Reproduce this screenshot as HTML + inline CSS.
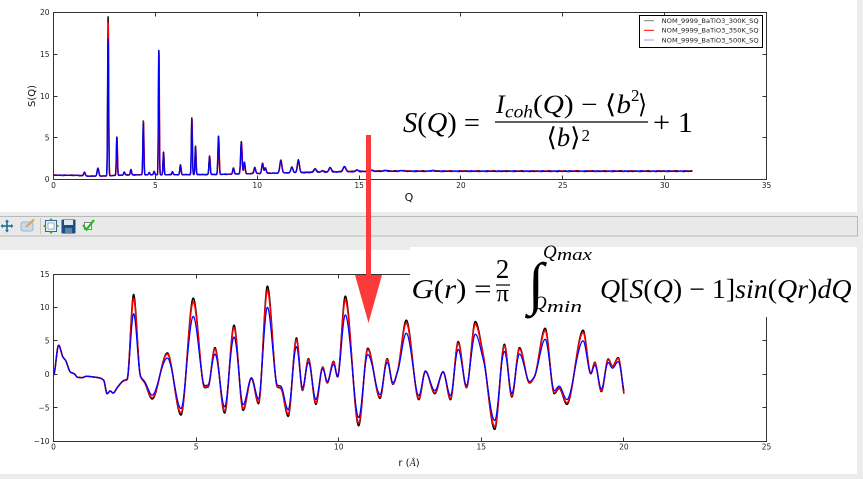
<!DOCTYPE html>
<html><head><meta charset="utf-8">
<style>
html,body{margin:0;padding:0;background:#ececec;}
svg{display:block;}
text{font-family:"DejaVu Sans","Liberation Sans",sans-serif;}
.tk text{font-size:7.5px;fill:#222;}
.m text,text.m{font-family:"Liberation Serif","DejaVu Serif",serif;fill:#000;}
.i{font-style:italic;}
</style></head>
<body>
<svg id="s" width="863" height="479" viewBox="0 0 863 479" xmlns="http://www.w3.org/2000/svg">
<rect width="863" height="479" fill="#ececec"/>
<rect x="0" y="0" width="857" height="212" fill="#fff"/>
<rect x="-1" y="216.5" width="858.5" height="19.5" fill="#e9e9e9" stroke="#b9b9b9"/>
<rect x="0" y="250" width="857" height="224" fill="#fff"/>

<!-- toolbar icons -->
<g>
  <g stroke="#1e6e96" stroke-width="1.6" fill="#1e6e96">
    <line x1="1.5" y1="226" x2="12.5" y2="226"/><line x1="7" y1="220.5" x2="7" y2="231.5"/>
    <polygon points="0.5,226 3,224 3,228" stroke="none"/><polygon points="13.5,226 11,224 11,228" stroke="none"/>
    <polygon points="7,219.5 5,222 9,222" stroke="none"/><polygon points="7,232.5 5,230 9,230" stroke="none"/>
  </g>
  <rect x="21" y="222" width="12" height="9" rx="2" fill="#c9dced" stroke="#9ab6cf"/>
  <line x1="26" y1="227" x2="34" y2="219.5" stroke="#e8a04a" stroke-width="2.2"/>
  <line x1="40.5" y1="218" x2="40.5" y2="234" stroke="#c6c6c6"/>
  <rect x="45.5" y="220.5" width="11" height="11" fill="#e6ecf6" stroke="#3e5f9e"/>
  <rect x="48" y="223" width="6" height="6" fill="#fff" stroke="#6a7fa8" stroke-width="0.6"/>
  <g fill="#2fb02f"><polygon points="51,218 49,220.5 53,220.5"/><polygon points="51,234 49,231.5 53,231.5"/><polygon points="43,226 45.5,224 45.5,228"/><polygon points="59,226 56.5,224 56.5,228"/></g>
  <rect x="61.5" y="219.5" width="14" height="14" rx="1" fill="#1c4f80"/>
  <rect x="64" y="220" width="9" height="5" fill="#dfe7f0"/>
  <rect x="65" y="228" width="7" height="5" fill="#5f84aa"/>
  <rect x="84.5" y="222.5" width="7" height="7" fill="#fff" stroke="#666" stroke-width="0.8"/>
  <polyline points="83,225 86.5,229.5 94,220" fill="none" stroke="#18c018" stroke-width="2.2"/>
</g>

<!-- TOP PLOT -->
<rect x="53.5" y="12.5" width="713" height="167" fill="#fff" stroke="#333" stroke-width="1"/>
<g id="sq"></g>
<path d="M155.5 179.5V175.5M257.5 179.5V175.5M359.5 179.5V175.5M460.5 179.5V175.5M562.5 179.5V175.5M664.5 179.5V175.5
M155.5 12.5V16.5M257.5 12.5V16.5M359.5 12.5V16.5M460.5 12.5V16.5M562.5 12.5V16.5M664.5 12.5V16.5
M53.5 54.5H57.5M53.5 96.5H57.5M53.5 137.5H57.5M766.5 54.5H762.5M766.5 96.5H762.5M766.5 137.5H762.5" stroke="#333" stroke-width="1" fill="none"/>
<g class="tk" text-anchor="middle">
  <text x="53.5" y="188">0</text><text x="155.4" y="188">5</text><text x="257.2" y="188">10</text><text x="359.1" y="188">15</text>
  <text x="460.9" y="188">20</text><text x="562.8" y="188">25</text><text x="664.6" y="188">30</text><text x="766.5" y="188">35</text>
</g>
<g class="tk" text-anchor="end">
  <text x="49.5" y="15">20</text><text x="49.5" y="57">15</text><text x="49.5" y="98.8">10</text><text x="49.5" y="140.5">5</text><text x="49.5" y="182.2">0</text>
</g>
<text x="35" y="96" font-size="10" text-anchor="middle" transform="rotate(-90 35 96)" fill="#111">S(Q)</text>
<text x="409" y="201" font-size="11" text-anchor="middle" fill="#111">Q</text>

<!-- legend -->
<rect x="639.5" y="15.5" width="123" height="32" fill="#fff" stroke="#000" stroke-width="1"/>
<line x1="644" y1="20.7" x2="654" y2="20.7" stroke="#7f7f7f" stroke-width="1"/>
<line x1="644" y1="30.3" x2="654" y2="30.3" stroke="#ff0000" stroke-width="1"/>
<line x1="644" y1="40" x2="654" y2="40" stroke="#9a9aff" stroke-width="1"/>
<g font-size="6" fill="#222">
  <text x="661.7" y="23" textLength="97" lengthAdjust="spacingAndGlyphs">NOM_9999_BaTiO3_300K_SQ</text>
  <text x="661.7" y="32.6" textLength="97" lengthAdjust="spacingAndGlyphs">NOM_9999_BaTiO3_350K_SQ</text>
  <text x="661.7" y="42.3" textLength="97" lengthAdjust="spacingAndGlyphs">NOM_9999_BaTiO3_500K_SQ</text>
</g>

<!-- top equation -->
<g class="m">
  <text style="font-family:'Liberation Serif',serif" x="403" y="132" font-size="28" textLength="77" lengthAdjust="spacingAndGlyphs"><tspan class="i">S</tspan>(<tspan class="i">Q</tspan>) =</text>
  <text style="font-family:'Liberation Serif',serif;font-style:italic" x="496" y="113" font-size="26">I</text>
  <text style="font-family:'Liberation Serif',serif;font-style:italic" x="505" y="117.5" font-size="18" textLength="28" lengthAdjust="spacingAndGlyphs">coh</text>
  <text style="font-family:'Liberation Serif',serif" x="533" y="113" font-size="26" textLength="98" lengthAdjust="spacingAndGlyphs">(<tspan class="i">Q</tspan>) − ⟨<tspan class="i">b</tspan></text>
  <text style="font-family:'Liberation Serif',serif" x="631" y="101" font-size="17">2</text>
  <text style="font-family:'Liberation Serif',serif" x="638" y="113" font-size="26" textLength="9" lengthAdjust="spacingAndGlyphs">⟩</text>
  <text style="font-family:'Liberation Serif',serif" x="546.5" y="146" font-size="26" textLength="34" lengthAdjust="spacingAndGlyphs">⟨<tspan class="i">b</tspan>⟩</text>
  <text style="font-family:'Liberation Serif',serif" x="581.5" y="141" font-size="17">2</text>
  <text style="font-family:'Liberation Serif',serif" x="653" y="132" font-size="28" textLength="40" lengthAdjust="spacingAndGlyphs">+ 1</text>
</g>
<line x1="495" y1="122" x2="648" y2="122" stroke="#000" stroke-width="1.3"/>

<!-- BOTTOM PLOT -->
<rect x="53.5" y="274.5" width="713" height="167" fill="#fff" stroke="#333" stroke-width="1"/>
<g id="gr"></g>
<path d="M196.5 441.5V437.5M338.5 441.5V437.5M481.5 441.5V437.5M623.5 441.5V437.5
M196.5 274.5V278.5M338.5 274.5V278.5M481.5 274.5V278.5M623.5 274.5V278.5
M53.5 307.5H57.5M53.5 340.5H57.5M53.5 374.5H57.5M53.5 407.5H57.5
M766.5 307.5H762.5M766.5 340.5H762.5M766.5 374.5H762.5M766.5 407.5H762.5" stroke="#333" stroke-width="1" fill="none"/>
<g class="tk" text-anchor="middle">
  <text x="53.5" y="449.5">0</text><text x="196.1" y="449.5">5</text><text x="338.7" y="449.5">10</text>
  <text x="481.3" y="449.5">15</text><text x="623.9" y="449.5">20</text><text x="766.5" y="449.5">25</text>
</g>
<g class="tk" text-anchor="end">
  <text x="49.5" y="277.2">15</text><text x="49.5" y="310.2">10</text><text x="49.5" y="343.6">5</text>
  <text x="49.5" y="377">0</text><text x="49.5" y="410.4">−5</text><text x="49.5" y="444.2">−10</text>
</g>
<text x="409" y="466" font-size="10" text-anchor="middle" fill="#111">r (<tspan font-family="Liberation Serif, serif" font-style="italic">Å</tspan>)</text>

<!-- bottom equation box -->
<rect x="410" y="247" width="447" height="70" fill="#fff"/>
<g class="m">
  <text style="font-family:'Liberation Serif',serif" x="411.5" y="298" font-size="27" textLength="80" lengthAdjust="spacingAndGlyphs"><tspan class="i">G</tspan>(<tspan class="i">r</tspan>) =</text>
  <text style="font-family:'Liberation Serif',serif" x="502.5" y="278" font-size="27" text-anchor="middle">2</text>
  <text style="font-family:'Liberation Serif',serif" x="502.5" y="301.5" font-size="25" text-anchor="middle">π</text>
  <text style="font-family:'Liberation Serif',serif" x="528" y="303" font-size="58">∫</text>
  <text style="font-family:'Liberation Serif',serif;font-style:italic" x="543" y="258" font-size="19">Q</text>
  <text style="font-family:'Liberation Serif',serif;font-style:italic" x="557" y="260" font-size="17" textLength="35" lengthAdjust="spacingAndGlyphs">max</text>
  <text style="font-family:'Liberation Serif',serif;font-style:italic" x="533" y="309" font-size="19">Q</text>
  <text style="font-family:'Liberation Serif',serif;font-style:italic" x="547" y="312" font-size="17" textLength="35" lengthAdjust="spacingAndGlyphs">min</text>
  <text style="font-family:'Liberation Serif',serif" x="600" y="298" font-size="27" textLength="251.5" lengthAdjust="spacingAndGlyphs"><tspan class="i">Q</tspan>[<tspan class="i">S</tspan>(<tspan class="i">Q</tspan>) − 1]<tspan class="i">sin</tspan>(<tspan class="i">Qr</tspan>)<tspan class="i">dQ</tspan></text>
</g>
<line x1="496" y1="285" x2="510" y2="285" stroke="#000" stroke-width="1.2"/>

<!-- red arrow -->
<rect x="366" y="135" width="5" height="142" fill="#fd3a3a"/>
<polygon points="355,275 382,275 368.5,323" fill="#fd3a3a"/>
</svg>

<script>
(function(){
var NS='http://www.w3.org/2000/svg';
function addPath(id,d,c,w){var p=document.createElementNS(NS,'path');p.setAttribute('d',d);p.setAttribute('fill','none');p.setAttribute('stroke',c);p.setAttribute('stroke-width',w);p.setAttribute('stroke-linejoin','round');document.getElementById(id).appendChild(p);}
function lin(xs,ys,x){if(x<=xs[0])return ys[0];for(var i=0;i<xs.length-1;i++){if(x<=xs[i+1]){var t=(x-xs[i])/(xs[i+1]-xs[i]);return ys[i]+t*(ys[i+1]-ys[i]);}}return ys[ys.length-1];}
var bx=[0,1.2,1.6,2.5,3.5,8,10,13,16,32],by=[0.52,0.5,0.4,0.42,0.55,0.6,0.72,0.88,1.0,1.0];
function base(q){return lin(bx,by,q);}
var P=[[1.52,0.87,.04],[2.18,1.35,.04],[2.68,19.5,.024,18.8,16.8],[3.11,5.1,.025],[3.47,0.9,.03],[3.80,1.2,.03],[4.41,7.0,.025,6.9,6.8],[4.70,0.85,.03],[4.94,0.95,.03],[5.17,15.5,.022,15.3,15.5],[5.40,3.3,.025],[5.84,0.95,.03],[6.23,1.75,.03],[6.79,7.4,.025,7.2,7.2],[6.97,4.0,.025],[7.66,2.8,.03],[8.10,5.2,.03],[8.83,1.4,.035],[9.22,4.5,.035],[9.37,2.1,.035],[9.88,1.45,.04],[10.26,1.95,.04],[10.40,1.4,.04],[11.16,2.3,.05],[11.70,1.5,.05],[12.02,2.35,.05],[12.84,1.3,.06],[13.20,1.05,.06],[13.58,1.45,.06],[14.28,1.55,.07],[14.9,1.15,.07],[15.6,1.12,.08],[16.3,1.1,.08],[17.1,1.08,.1],[18.6,1.07,.1]];
function S(q,k){var s=base(q);var sh=(k==1?0.01:0);
 for(var i=0;i<P.length;i++){var p=P[i];var q0=p[0]+sh;var sg=p[2];var dq=q-q0;if(Math.abs(dq)>7*sg)continue;
  var tot=p[1];if(k==1)tot=(p.length>3?p[3]:p[1]*0.98);if(k==2)tot=(p.length>4?p[4]:p[1]*0.98);
  var h=tot-base(p[0]);s+=h*Math.exp(-dq*dq/(2*sg*sg));}
 var amp=(q>12?0.04:0.02);s+=amp*Math.sin(q*9.1+k*1.7)+0.015*Math.sin(q*23.3+k);
 return s;}
function X1(q){return 53.5+q*20.3714;}function Y1(s){return 179.5-s*8.35;}
var cols=['#000000','#ff0000','#0000ff'],ws=[1.4,1.3,1.2];
for(var k=0;k<3;k++){var pts=[];var q=0;while(q<=31.37){pts.push(X1(q).toFixed(2)+' '+Y1(S(q,k)).toFixed(2));q+=(q<16?0.004:0.02);}
 addPath('sq','M'+pts.join('L'),cols[k],ws[k]);}
var E=[[0,-0.1],[0.18,4.35],[0.33,2.6],[0.42,2.1],[0.6,0.3],[0.72,0.1],[0.85,-0.45],[1.0,-0.5],[1.15,-0.3],[1.4,-0.4],[1.62,-0.55],[1.76,-0.9],[1.88,-2.9],[1.99,-2.5],[2.09,-2.8],[2.25,-1.9],[2.45,-1.0],[2.58,-0.8],[2.81,11.95],[3.05,-0.3],[3.2,-1.3],[3.46,-3.7],[3.99,3.2],[4.47,-6.1],[4.90,11.4],[5.3,-2.0],[5.42,-1.9],[5.66,4.0],[6.0,-5.8],[6.33,7.35],[6.65,-5.4],[6.94,-0.6],[7.19,-4.4],[7.50,13.2],[7.85,-1.9],[7.97,-2.1],[8.23,-6.3],[8.52,5.45],[8.73,-2.4],[8.94,2.35],[9.2,-4.5],[9.44,1.1],[9.6,-1.3],[9.82,1.95],[9.96,-0.4],[10.23,11.7],[10.70,-7.7],[11.02,3.9],[11.45,-3.6],[11.70,2.35],[11.90,-1.5],[12.07,0.6],[12.37,8.1],[12.81,-3.8],[13.04,0.5],[13.37,-2.9],[13.66,0.4],[13.92,-3.8],[14.19,4.9],[14.48,-2.0],[14.79,7.9],[15.06,3.1],[15.47,-8.25],[15.81,4.5],[16.07,-3.4],[16.34,4.0],[16.69,-1.3],[16.86,-0.4],[17.24,6.9],[17.56,-2.9],[17.73,-2.1],[18.0,-4.5],[18.57,6.6],[18.84,0.1],[18.98,1.8],[19.21,-2.6],[19.45,2.3],[19.6,1.2],[19.8,2.5],[20.0,-2.9]];
var xs=E.map(function(e){return e[0];}),ys=E.map(function(e){return e[1];});
var n=xs.length,h=[],d=[],m=[];
for(var i=0;i<n-1;i++){h[i]=xs[i+1]-xs[i];d[i]=(ys[i+1]-ys[i])/h[i];}
m[0]=0;m[n-1]=d[n-2];
for(var i=1;i<n-1;i++){if(d[i-1]*d[i]<=0)m[i]=0;else{var w1=2*h[i]+h[i-1],w2=h[i]+2*h[i-1];m[i]=(w1+w2)/(w1/d[i-1]+w2/d[i]);}}
function G(x){var i=0;while(i<n-2&&x>xs[i+1])i++;var t=(x-xs[i])/h[i];var t2=t*t,t3=t2*t;
 return (2*t3-3*t2+1)*ys[i]+(t3-2*t2+t)*h[i]*m[i]+(-2*t3+3*t2)*ys[i+1]+(t3-t2)*h[i]*m[i+1];}
function X2(r){return 53.5+r*28.52;}function Y2(g){return 374.3-g*6.68;}
for(var k=0;k<3;k++){var pts=[];for(var j=0;j<=2000;j++){var r=j*0.01;var g=G(r);
  var ramp=Math.max(0,Math.min(1,(r-2.3)/0.4));
  if(k==1)g=g*(1-ramp*0.05);
  if(k==2)g=g*(1-ramp*(g>0?0.24:0.16));
  pts.push(X2(r).toFixed(2)+' '+Y2(g).toFixed(2));}
 addPath('gr','M'+pts.join('L'),cols[k],k==2?1.2:1.5);}
})();
</script>
</body></html>
